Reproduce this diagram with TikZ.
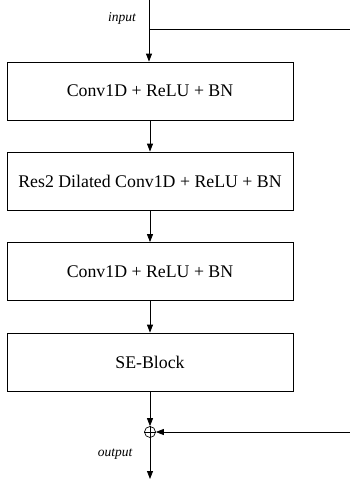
\documentclass[tikz,border=0pt]{standalone}
\usepackage{fontspec}
\setmainfont{Liberation Serif}
\usetikzlibrary{arrows.meta}
\begin{document}
\begin{tikzpicture}[x=1pt,y=-1pt,
  blk/.style={draw, line width=0.8pt, minimum width=286pt, minimum height=58pt, inner sep=0pt, font=\fontsize{17.8}{20}\selectfont},
  lab/.style={font=\fontsize{13.5}{15}\selectfont\itshape},
  arr/.style={line width=0.8pt, -{Triangle[length=8pt,width=6pt]}},
  ln/.style={line width=0.8pt}]
\useasboundingbox (0,0) rectangle (350,479);
\coordinate (top) at (149,0);
\coordinate (br) at (149,29);
\coordinate (inR) at (350,29);
\node[blk] (b1) at (150,91) {Conv1D + ReLU + BN};
\node[blk] (b2) at (150,181) {Res2 Dilated Conv1D + ReLU + BN};
\node[blk] (b3) at (150,271.5) {Conv1D + ReLU + BN};
\node[blk] (b4) at (150,362) {SE-Block};
\node[draw, circle, line width=0.7pt, minimum size=11pt, inner sep=0pt] (plus) at (150,432) {};
\draw[line width=0.6pt] (plus.north) -- (plus.south) (plus.west) -- (plus.east);
\coordinate (resR) at (350,432);
\coordinate (out) at (150,479);
\node[lab] (in) at (122,18) {input};
\node[lab] (ou) at (115,454) {output};
\draw[arr] (top) -- (b1.north -| top);
\draw[ln] (br) -- (inR);
\draw[arr] (b1) -- (b2);
\draw[arr] (b2) -- (b3);
\draw[arr] (b3) -- (b4);
\draw[arr] (b4) -- (plus);
\draw[arr] (resR) -- (plus);
\draw[arr] (plus) -- (out);
\end{tikzpicture}
\end{document}
